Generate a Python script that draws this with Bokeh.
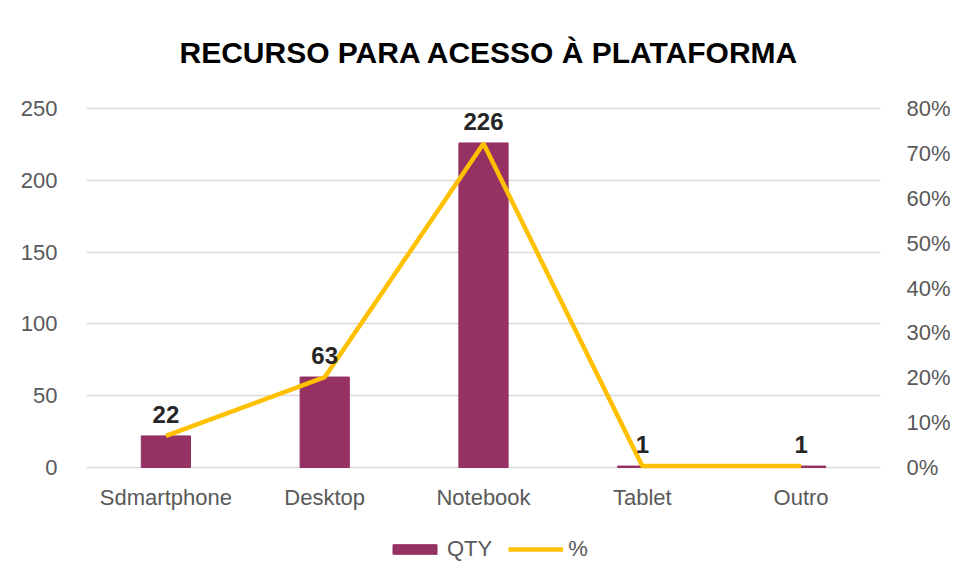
from bokeh.plotting import figure
from bokeh.models import (ColumnDataSource, Range1d, LinearAxis, FixedTicker,
                          NumeralTickFormatter, LabelSet, Legend, LegendItem)
from bokeh.embed import file_html
from bokeh.resources import INLINE
from bokeh.core.properties import value

title_text = "RECURSO PARA ACESSO À PLATAFORMA"
categories = ["Sdmartphone", "Desktop", "Notebook", "Tablet", "Outro"]
qty = [22, 63, 226, 1, 1]
pct = [0.0703, 0.2013, 0.7220, 0.0032, 0.0032]
left_ticks = [0, 50, 100, 150, 200, 250]
right_ticks = [0, 0.1, 0.2, 0.3, 0.4, 0.5, 0.6, 0.7, 0.8]
left_max = 250
right_max = 0.8

# layout (pixels)
FRAME_H = 575
TOP_PX = 108      # where the 250 gridline sits
ZERO_PX = 467     # where the 0 gridline sits
TITLE_PX = 52
px = (ZERO_PX - TOP_PX) / left_max
y_end = left_max + TOP_PX / px
y_start = left_max - (FRAME_H - TOP_PX) / px
scale_r = right_max / left_max

src = ColumnDataSource(dict(cat=categories, qty=qty, pct=pct,
                            lbl=[str(v) for v in qty]))

p = figure(x_range=categories, y_range=Range1d(y_start, y_end),
           frame_width=794, frame_height=FRAME_H,
           output_backend="svg", toolbar_location=None,
           min_border_left=86, min_border_right=65, min_border_top=0,
           min_border_bottom=0)
p.outline_line_color = None
p.background_fill_color = "white"
p.xaxis.visible = False

p.extra_y_ranges = {"pct": Range1d(y_start * scale_r, y_end * scale_r)}

bars = p.vbar(x="cat", top="qty", width=0.31, source=src, color="#953163")
line = p.line(x="cat", y="pct", source=src, y_range_name="pct",
              line_color="#FFC000", line_width=4.5)

labels = LabelSet(x="cat", y="qty", text="lbl", source=src, y_offset=13,
                  text_align="center", text_baseline="bottom",
                  text_font=value("Liberation Sans"), text_font_size="24px",
                  text_font_style="bold", text_color="#262626")
p.add_layout(labels)

tick_color = "#595959"
cat_src = ColumnDataSource(dict(cat=categories, y=[0] * len(categories)))
cat_labels = LabelSet(x="cat", y="y", text="cat", source=cat_src, y_offset=-30,
                      text_align="center", text_baseline="middle",
                      text_font=value("Liberation Sans"), text_font_size="22px",
                      text_color=tick_color)
p.add_layout(cat_labels)

title_src = ColumnDataSource(dict(x=[categories[2]],
                                  y=[left_max + (TOP_PX - TITLE_PX) / px],
                                  t=[title_text]))
title = LabelSet(x="x", y="y", text="t", source=title_src, x_offset=6,
                 text_align="center", text_baseline="middle",
                 text_font=value("Liberation Sans"), text_font_size="30px",
                 text_font_style="bold", text_color="#000000")
p.add_layout(title)

ax_l = p.yaxis[0]
ax_l.ticker = FixedTicker(ticks=left_ticks)
ax_r = LinearAxis(y_range_name="pct", ticker=FixedTicker(ticks=right_ticks),
                  formatter=NumeralTickFormatter(format="0%"))
p.add_layout(ax_r, "right")

for ax in [ax_l, ax_r]:
    ax.axis_line_color = None
    ax.major_tick_line_color = None
    ax.minor_tick_line_color = None
    ax.major_label_text_color = tick_color
    ax.major_label_text_font = "Liberation Sans"
    ax.major_label_text_font_size = "22px"
ax_l.major_label_standoff = 23
ax_r.major_label_standoff = 20

p.xgrid.grid_line_color = None
p.ygrid.grid_line_color = "#d9d9d9"
p.ygrid.grid_line_width = 1.5
p.ygrid.ticker = FixedTicker(ticks=left_ticks)

legend = Legend(items=[LegendItem(label="QTY", renderers=[bars]),
                       LegendItem(label="%", renderers=[line])],
                orientation="horizontal", location=(301, 13),
                label_text_font="Liberation Sans", label_text_font_size="22px",
                label_text_color=tick_color, glyph_width=55, glyph_height=12,
                border_line_color=None, background_fill_alpha=0,
                spacing=16, label_standoff=5, margin=0, padding=4)
p.add_layout(legend)

open("out.html", "w").write(file_html(p, INLINE))
